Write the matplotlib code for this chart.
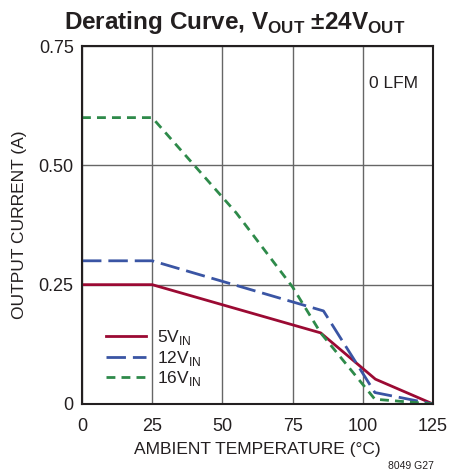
import matplotlib
matplotlib.use('Agg')
import matplotlib.pyplot as plt

plt.rcParams['font.family'] = ['Liberation Sans', 'DejaVu Sans']
plt.rcParams['mathtext.fontset'] = 'custom'
plt.rcParams['mathtext.rm'] = 'Liberation Sans'

# derating data
temp_5v = [0, 25, 85, 104.5, 125]
curr_5v = [0.25, 0.25, 0.149, 0.052, 0.0]
temp_12v = [0, 25, 86, 104.3, 125]
curr_12v = [0.30, 0.30, 0.195, 0.024, 0.0]
temp_16v = [0, 25, 55, 75, 85, 104.3, 125]
curr_16v = [0.60, 0.60, 0.40, 0.245, 0.149, 0.01, 0.0]

x_ticks = [0, 25, 50, 75, 100, 125]
y_ticks = [0, 0.25, 0.50, 0.75]
y_labels = ['0', '0.25', '0.50', '0.75']

fig = plt.figure(figsize=(4.69, 4.73), dpi=100)
ax = fig.add_axes([0.1748, 0.1459, 0.7484, 0.7568])

ax.plot(temp_5v, curr_5v, color='#9b0a33', lw=2.0, label='5V$_{\\mathregular{IN}}$')
ax.plot(temp_12v, curr_12v, color='#3a55a4', lw=2.0, dashes=(7, 2.5), label='12V$_{\\mathregular{IN}}$')
ax.plot(temp_16v, curr_16v, color='#2e8a4a', lw=2.0, dashes=(3.2, 2.2), label='16V$_{\\mathregular{IN}}$')

ax.set_xlim(0, 125)
ax.set_ylim(0, 0.75)
ax.set_xticks(x_ticks)
ax.set_yticks(y_ticks)
ax.set_yticklabels(y_labels)
ax.tick_params(length=0, labelsize=13, colors='#231f20')
ax.tick_params(axis='x', pad=10)
ax.tick_params(axis='y', pad=6)
ax.grid(True, color='#666666', lw=1.0)
for s in ax.spines.values():
    s.set_linewidth(1.5)
    s.set_color('#231f20')

ax.set_xlabel('AMBIENT TEMPERATURE (°C)', fontsize=12.5, color='#231f20', labelpad=5)
ax.set_ylabel('OUTPUT CURRENT (A)', fontsize=12.5, color='#231f20', labelpad=8)
ax.text(0.957, 0.894, '0 LFM', transform=ax.transAxes, ha='right', va='center', fontsize=12.5, color='#231f20')

fig.text(0.5, 0.953, 'Derating Curve, V$_{\\mathregular{OUT}}$ \u00b124V$_{\\mathregular{OUT}}$',
         ha='center', va='center', fontsize=17.5, fontweight='bold', color='#231f20')
fig.text(0.925, 0.015, '8049 G27', ha='right', va='center', fontsize=7.5, color='#231f20')

leg = ax.legend(loc='lower left', bbox_to_anchor=(0.025, 0.0), frameon=False, fontsize=12.5,
                handlelength=2.3, labelspacing=0.1, handletextpad=0.6)
for t in leg.get_texts():
    t.set_color('#231f20')

fig.savefig('out.png', dpi=100)
